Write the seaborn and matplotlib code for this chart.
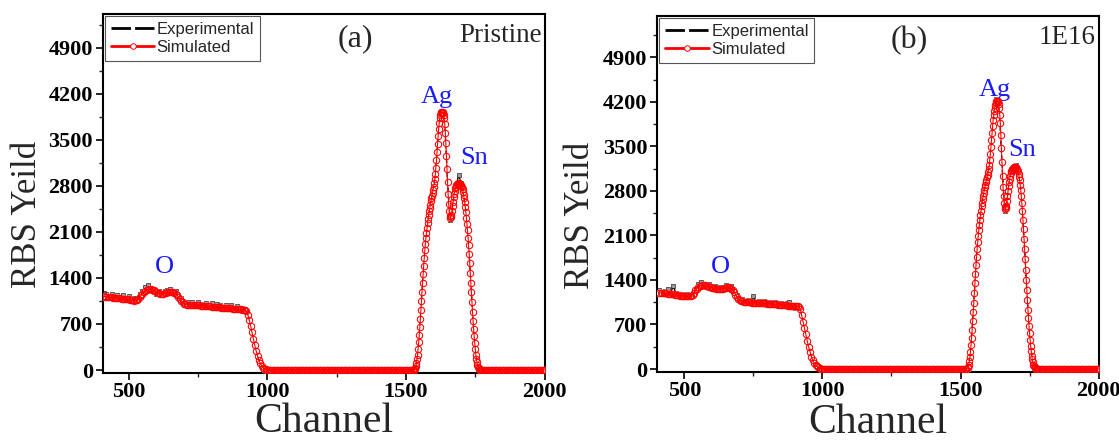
import numpy as np
import pandas as pd
import matplotlib
matplotlib.use("Agg")
import matplotlib.pyplot as plt
from matplotlib.lines import Line2D
import seaborn as sns

# ---------------- data ----------------
# channel grids: coarse on the flat parts, fine across the Ag/Sn peaks
ch_low = np.arange(410, 1001, 5)      # substrate / O region and the falling edge
ch_gap = np.arange(1005, 1525, 5)     # empty region between edge and peaks
ch_peak = np.arange(1526, 1777, 2)    # Ag and Sn peaks
ch_high = np.arange(1780, 2001, 5)    # above the Sn edge
ch_exp = np.arange(410, 2001, 10)     # measured spectrum

sim_a_low = [
    1120, 1118, 1115, 1113, 1110, 1108, 1105, 1102, 1100, 1097, 1095, 1092, 1090, 1087, 1085, 1082,
    1080, 1077, 1075, 1070, 1065, 1060, 1055, 1058, 1065, 1085, 1110, 1135, 1160, 1182, 1200, 1215,
    1225, 1230, 1230, 1222, 1210, 1195, 1180, 1170, 1165, 1161, 1160, 1162, 1165, 1172, 1180, 1184,
    1185, 1184, 1180, 1172, 1160, 1138, 1110, 1080, 1050, 1028, 1010, 1000, 995, 993, 992, 991,
    990, 989, 987, 986, 985, 983, 981, 979, 977, 975, 973, 971, 969, 967, 965, 963,
    961, 959, 957, 955, 953, 951, 949, 947, 945, 943, 941, 939, 937, 935, 933, 931,
    929, 927, 925, 922, 919, 915, 910,
    895, 840, 760, 675, 575, 470, 375, 290, 215, 150, 100, 62, 35, 18, 8, 3,
]
sim_a_peak = [
    0, 2, 6, 15, 30, 60, 105, 165, 235, 320, 420, 530, 650, 780, 915, 1050,
    1190, 1330, 1465, 1590, 1710, 1820, 1920, 2010, 2090, 2165, 2235, 2300, 2360, 2415, 2465, 2515,
    2565, 2610, 2655, 2700, 2745, 2790, 2840, 2900, 2980, 3080, 3190, 3310, 3440, 3560, 3670, 3760,
    3830, 3875, 3905, 3922, 3930, 3928, 3915, 3885, 3830, 3740, 3610, 3450, 3260, 3060, 2860, 2680,
    2530, 2420, 2350, 2320, 2325, 2360, 2420, 2490, 2560, 2625, 2680, 2725, 2762, 2790, 2810, 2825,
    2835, 2840, 2842, 2840, 2835, 2826, 2812, 2800, 2780, 2752, 2715, 2668, 2612, 2550, 2480, 2400,
    2315, 2225, 2125, 2015, 1895, 1765, 1625, 1480, 1330, 1180, 1030, 885, 750, 625, 510, 405,
    315, 235, 170, 118, 78, 48, 28, 15, 7, 3, 1, 0, 0, 0,
]
exp_a = [
    1165, 1150, 1130, 1160, 1120, 1145, 1110, 1140, 1095, 1125, 1080, 1090, 1095, 1150, 1200, 1260,
    1290, 1255, 1190, 1150, 1195, 1150, 1200, 1210, 1225, 1175, 1200, 1125, 1095, 1040, 1030, 985,
    1035, 990, 1030, 1010, 965, 1025, 975, 1020, 960, 1000, 990, 950, 995, 955, 985, 930,
    970, 940, 950, 905, 830, 660, 460, 280, 140, 55, 15, 0,
    0, 0, 0, 0, 0, 0, 0, 0, 0, 0, 0, 0, 0, 0, 0, 0, 0, 0, 0, 0, 0, 0, 0, 0, 0, 0,
    0, 0, 0, 0, 0, 0, 0, 0, 0, 0, 0, 0, 0, 0, 0, 0, 0, 0, 0, 0, 0, 0, 0, 0, 0, 0,
    10, 170, 660, 1340, 1930, 2310, 2570, 2800, 3200, 3770, 3940, 3750, 2870, 2280, 2570, 2800,
    2960, 2850, 2620, 2230, 1630, 890, 320, 50, 0,
    0, 0, 0, 0, 0, 0, 0, 0, 0, 0, 0, 0, 0, 0, 0, 0, 0, 0, 0, 0, 0, 0, 0,
]

sim_b_low = [
    1200, 1197, 1195, 1192, 1190, 1187, 1185, 1182, 1180, 1176, 1172, 1168, 1164, 1160, 1157, 1154,
    1151, 1148, 1146, 1145, 1144, 1143, 1143, 1150, 1170, 1200, 1235, 1264, 1285, 1300, 1310, 1315,
    1316, 1314, 1308, 1300, 1292, 1285, 1280, 1276, 1270, 1263, 1257, 1253, 1252, 1255, 1262, 1272,
    1280, 1284, 1283, 1278, 1265, 1242, 1210, 1170, 1135, 1105, 1085, 1072, 1064, 1058, 1055, 1053,
    1051, 1049, 1047, 1045, 1043, 1042, 1040, 1039, 1037, 1036, 1034, 1033, 1031, 1030, 1028, 1026,
    1024, 1022, 1020, 1018, 1016, 1014, 1012, 1010, 1008, 1006, 1004, 1002, 1000, 998, 996, 994,
    992, 990, 988, 986, 983, 975, 940,
    845, 745, 640, 545, 440, 350, 270, 195, 135, 92, 62, 40, 24, 13, 6, 2,
]
sim_b_peak = [
    15, 35, 70, 120, 190, 275, 375, 490, 615, 750, 895, 1045, 1195, 1345, 1490, 1630,
    1760, 1880, 1990, 2090, 2180, 2265, 2345, 2420, 2490, 2555, 2615, 2670, 2720, 2768, 2812, 2855,
    2895, 2935, 2975, 3015, 3055, 3100, 3150, 3210, 3290, 3385, 3490, 3600, 3710, 3815, 3910, 3990,
    4055, 4110, 4155, 4188, 4208, 4218, 4215, 4200, 4165, 4100, 4000, 3860, 3680, 3470, 3250, 3040,
    2860, 2720, 2615, 2545, 2515, 2525, 2570, 2640, 2720, 2800, 2870, 2935, 2990, 3035, 3075, 3105,
    3130, 3148, 3160, 3168, 3172, 3173, 3172, 3168, 3160, 3148, 3130, 3105, 3070, 3025, 2968, 2898,
    2815, 2718, 2608, 2485, 2350, 2205, 2050, 1890, 1725, 1560, 1395, 1235, 1080, 935, 800, 675,
    560, 455, 360, 278, 208, 150, 104, 68, 42, 24, 12, 5, 2, 0,
]
exp_b = [
    1240, 1215, 1225, 1250, 1195, 1300, 1190, 1150, 1185, 1135, 1175, 1130, 1190, 1255, 1330, 1365,
    1340, 1290, 1335, 1265, 1310, 1245, 1290, 1255, 1320, 1275, 1300, 1230, 1170, 1075, 1105, 1040,
    1090, 1035, 1150, 1030, 1075, 1025, 1065, 1020, 1060, 1005, 1055, 1000, 1045, 990, 1035, 1060,
    1000, 965, 1010, 930, 740, 540, 345, 190, 90, 38, 12, 0,
    0, 0, 0, 0, 0, 0, 0, 0, 0, 0, 0, 0, 0, 0, 0, 0, 0, 0, 0, 0, 0, 0, 0, 0, 0, 0,
    0, 0, 0, 0, 0, 0, 0, 0, 0, 0, 0, 0, 0, 0, 0, 0, 0, 0, 0, 0, 0, 0, 0, 0, 0, 0,
    70, 490, 1195, 1880, 2345, 2670, 2895, 3100, 3490, 3990, 4240, 4090, 3250, 2480, 2720, 3035,
    3160, 3200, 3070, 2718, 2050, 1235, 560, 150, 12,
    0, 0, 0, 0, 0, 0, 0, 0, 0, 0, 0, 0, 0, 0, 0, 0, 0, 0, 0, 0, 0, 0, 0,
]

zeros_gap = [0] * len(ch_gap)
zeros_high = [0] * len(ch_high)

x_ticks = [500, 1000, 1500, 2000]
y_ticks = [0, 700, 1400, 2100, 2800, 3500, 4200, 4900]

panels = [
    dict(sim_low=sim_a_low, sim_peak=sim_a_peak, exp=exp_a, tag="(a)", sample="Pristine",
         rect=[0.0916, 0.1587, 0.3951, 0.8097], xlim=(406, 2000), ylim=(-41, 5417),
         ag=(1612, 4155), sn=(1746, 3227), ox=(631, 1568),
         ylab_x=-0.132, xlab_y=-0.165),
    dict(sim_low=sim_b_low, sim_peak=sim_b_peak, exp=exp_b, tag="(b)", sample="1E16",
         rect=[0.5871, 0.1610, 0.3947, 0.8029], xlim=(401, 2000), ylim=(-42, 5549),
         ag=(1625, 4386), sn=(1722, 3443), ox=(629, 1603),
         ylab_x=-0.136, xlab_y=-0.172),
]

# ---------------- style ----------------
sns.set_style("ticks")
plt.rcParams["font.family"] = ["Liberation Serif", "DejaVu Serif"]

fig = plt.figure(figsize=(11.19, 4.43), dpi=100)
fig.patch.set_facecolor("white")

MS = 4.6
for p in panels:
    ax = fig.add_axes(p["rect"])
    sim_df = pd.DataFrame({
        "Channel": np.concatenate([ch_low, ch_gap, ch_peak, ch_high]),
        "Yield": np.concatenate([p["sim_low"], zeros_gap, p["sim_peak"], zeros_high]),
    })
    exp_df = pd.DataFrame({"Channel": ch_exp, "Yield": p["exp"]})

    # measured spectrum: dashed line with grey points
    sns.lineplot(data=exp_df, x="Channel", y="Yield", ax=ax, color="black",
                 lw=1.0, linestyle="--", sort=False, zorder=2, legend=False)
    sns.scatterplot(data=exp_df, x="Channel", y="Yield", ax=ax, marker="s", s=7,
                    color="#9a9a9a", edgecolor="black", linewidth=0.4, zorder=2, legend=False)
    # simulated spectrum: white-filled symbols underneath, open red symbols on top
    sns.lineplot(data=sim_df, x="Channel", y="Yield", ax=ax, color="white", lw=0,
                 marker="o", markersize=MS, markerfacecolor="white",
                 markeredgecolor="white", markeredgewidth=0.8, sort=False, zorder=3,
                 legend=False)
    sns.lineplot(data=sim_df, x="Channel", y="Yield", ax=ax, color="red", lw=0.8,
                 marker="o", markersize=MS, markerfacecolor="none",
                 markeredgecolor="red", markeredgewidth=0.75, sort=False, zorder=4,
                 legend=False)

    ax.set_xlim(*p["xlim"])
    ax.set_ylim(*p["ylim"])
    ax.set_xticks(x_ticks)
    ax.set_xticks([750, 1250, 1750], minor=True)
    ax.set_yticks(y_ticks)
    ax.set_yticks([350, 1050, 1750, 2450, 3150, 3850, 4550, 5250], minor=True)
    ax.tick_params(axis="both", which="major", direction="out", length=5, width=1.2,
                   labelsize=16, colors="black", pad=2)
    ax.tick_params(axis="both", which="minor", direction="out", length=3, width=1.0)
    ax.tick_params(top=False, right=False, which="both")
    for lab in ax.get_xticklabels() + ax.get_yticklabels():
        lab.set_fontweight("bold")
    for sp in ax.spines.values():
        sp.set_visible(True)
        sp.set_linewidth(1.5)
        sp.set_color("black")

    ax.set_xlabel("Channel", fontsize=30)
    ax.set_ylabel("RBS Yeild", fontsize=25)
    ax.xaxis.label.set_va("baseline")
    ax.xaxis.set_label_coords(0.5, p["xlab_y"])
    ax.yaxis.set_label_coords(p["ylab_x"], 0.44)

    ax.text(0.571, 0.93, p["tag"], transform=ax.transAxes, fontsize=23,
            ha="center", va="center")
    ax.text(0.993, 0.94, p["sample"], transform=ax.transAxes, fontsize=19.5,
            ha="right", va="center")
    for name, (cx, cy) in (("Ag", p["ag"]), ("Sn", p["sn"]), ("O", p["ox"])):
        ax.text(cx, cy, name, fontsize=19, color="#1a1aff", ha="center", va="center")

    handles = [
        Line2D([], [], color="black", lw=2.0, dashes=(7, 1.5)),
        Line2D([], [], color="red", lw=2.0, marker="o", markersize=4,
               markerfacecolor="white", markeredgecolor="red", markeredgewidth=0.7),
    ]
    leg = ax.legend(handles, ["Experimental", "Simulated"], loc="upper left",
                    bbox_to_anchor=(0.0, 1.0), borderaxespad=0.15, frameon=True,
                    fancybox=False, edgecolor="#555555", framealpha=1,
                    prop={"family": ["Liberation Sans", "DejaVu Sans"], "size": 12},
                    handlelength=2.6, handletextpad=0.15, labelspacing=0.15,
                    borderpad=0.35, numpoints=1)
    leg.get_frame().set_linewidth(0.8)

fig.savefig("out.png", dpi=100, facecolor="white")
